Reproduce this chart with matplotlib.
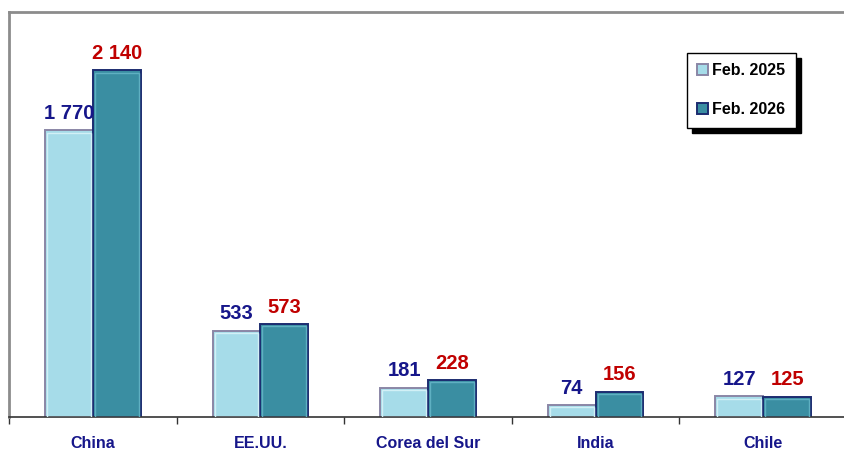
import matplotlib.pyplot as plt
import numpy as np

countries = ['China', 'EE.UU.', 'Corea del Sur', 'India', 'Chile']
feb_2025 = [1770, 533, 181, 74, 127]
feb_2026 = [2140, 573, 228, 156, 125]
series_names = ['Feb. 2025', 'Feb. 2026']

plt.rcParams['font.family'] = ['Liberation Sans', 'DejaVu Sans']
plt.rcParams['font.weight'] = 'bold'

fig = plt.figure(figsize=(8.44, 4.5), dpi=100)
ax = fig.add_axes([9 / 844, 33 / 450, 838 / 844, 405 / 450])

x = np.arange(len(countries))
w = 0.285
light = '#a6dce9'
dark = '#3a8ea2'
navy = '#16168a'
red = '#c00000'

b1 = ax.bar(x - w / 2, feb_2025, w, color=light, edgecolor='#8a86a6', linewidth=1.4, label=series_names[0])
b2 = ax.bar(x + w / 2, feb_2026, w, color=dark, edgecolor='#1c2c70', linewidth=1.4, label=series_names[1])

# soft bevel highlight inside each bar
for bars, hl in ((b1, '#d2f0f6'), (b2, '#5fb0c2')):
    for r in bars:
        h = r.get_height()
        inset = 0.012
        ax.bar(r.get_x() + r.get_width() / 2, max(h - 14, 0), r.get_width() - 2 * inset,
               bottom=0, color='none', edgecolor=hl, linewidth=1.0, zorder=3)


def fmt(v):
    return f'{v:,}'.replace(',', ' ')


for xi, v in zip(x, feb_2025):
    ax.text(xi - w / 2, v + 45, fmt(v), ha='center', va='bottom', color=navy,
            fontsize=14.5, fontweight='bold')
for xi, v in zip(x, feb_2026):
    ax.text(xi + w / 2, v + 45, fmt(v), ha='center', va='bottom', color=red,
            fontsize=14.5, fontweight='bold')

ax.set_xlim(-0.5, len(countries) - 0.5)
ax.set_ylim(0, 2500)
ax.set_yticks([])
ax.set_xticks(np.arange(len(countries) + 1) - 0.5)
ax.set_xticklabels([])
ax.set_xticks(x, minor=True)
ax.set_xticklabels(countries, minor=True, color=navy, fontsize=11.5, fontweight='bold')
ax.tick_params(axis='x', which='major', length=5, color='#333333', width=1)
ax.tick_params(axis='x', which='minor', length=0, pad=14)

for side in ('top', 'left'):
    ax.spines[side].set_color('#8c8c8c')
    ax.spines[side].set_linewidth(2)
ax.spines['right'].set_visible(False)
ax.spines['bottom'].set_color('#333333')
ax.spines['bottom'].set_linewidth(1.2)

leg = ax.legend(loc='upper right', bbox_to_anchor=(0.939, 0.899), borderaxespad=0,
                frameon=True, fancybox=False,
                shadow={'color': 'black', 'alpha': 1, 'ox': 4, 'oy': -4},
                edgecolor='black', prop={'weight': 'bold', 'size': 11.5},
                handlelength=0.7, handleheight=0.7, handletextpad=0.25, labelspacing=1.5,
                borderpad=0.65)
leg.get_frame().set_linewidth(1)

fig.savefig('out.png', dpi=100)
